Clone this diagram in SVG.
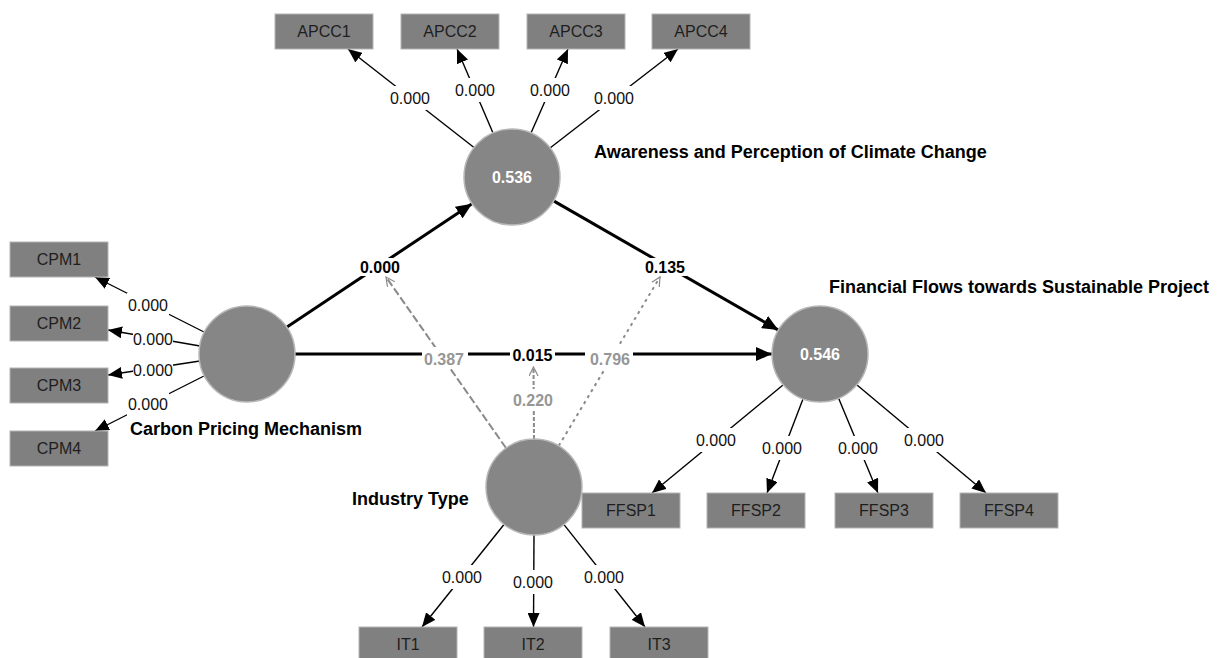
<svg xmlns="http://www.w3.org/2000/svg" width="1221" height="658" viewBox="0 0 1221 658">
<defs>
<style>
text{font-family:"Liberation Sans",Arial,sans-serif;font-size:16px}
.box{fill:#808080;stroke:#b4b4b4;stroke-width:1}
.bt{fill:#1e1e1e;text-anchor:middle}
.lv{fill:#868686;stroke:#b8b8b8;stroke-width:1.5}
.lvt{fill:#fff;font-weight:bold;text-anchor:middle}
.title{fill:#000;font-weight:bold;font-size:18px}
.ld{stroke:#000;stroke-width:1.4;fill:none;marker-end:url(#aS)}
.st{stroke:#000;stroke-width:3;fill:none;marker-end:url(#aB)}
.md{stroke:#8a8a8a;stroke-width:2;fill:none;marker-end:url(#aO)}
.bg{fill:#fff}
.lt{fill:#111;text-anchor:middle}
.sl{fill:#000;font-weight:bold;text-anchor:middle}
.ml{fill:#969696;font-weight:bold;text-anchor:middle}
</style>
<marker id="aS" markerUnits="userSpaceOnUse" markerWidth="15" markerHeight="12" refX="14" refY="6" orient="auto"><path d="M0,0 L14,6 L0,12 z" fill="#000"/></marker>
<marker id="aB" markerUnits="userSpaceOnUse" markerWidth="17" markerHeight="14" refX="16" refY="7" orient="auto"><path d="M0,0 L16,7 L0,14 z" fill="#000"/></marker>
<marker id="aO" markerUnits="userSpaceOnUse" markerWidth="10" markerHeight="10" refX="9" refY="5" orient="auto"><path d="M0,0.5 L9,5 L0,9.5" fill="none" stroke="#8a8a8a" stroke-width="1.2"/></marker>
</defs>
<rect width="1221" height="658" fill="#fff"/>

<g id="connectors">
<!-- APCC loadings -->
<line class="ld" x1="474" y1="147.5" x2="348" y2="49"/>
<line class="ld" x1="493" y1="133" x2="457" y2="49"/>
<line class="ld" x1="531" y1="133" x2="568" y2="49"/>
<line class="ld" x1="550" y1="148" x2="678" y2="49"/>
<!-- CPM loadings -->
<line class="ld" x1="204" y1="332" x2="95" y2="277"/>
<line class="ld" x1="200" y1="346" x2="108" y2="330"/>
<line class="ld" x1="200" y1="361" x2="108" y2="375"/>
<line class="ld" x1="204" y1="376" x2="95" y2="431"/>
<!-- FFSP loadings -->
<line class="ld" x1="783" y1="385" x2="652" y2="493"/>
<line class="ld" x1="803" y1="399" x2="767" y2="493"/>
<line class="ld" x1="838.5" y1="398" x2="878" y2="493"/>
<line class="ld" x1="857" y1="385" x2="986" y2="493"/>
<!-- IT loadings -->
<line class="ld" x1="504" y1="524.5" x2="422" y2="627"/>
<line class="ld" x1="534" y1="535" x2="533.5" y2="627"/>
<line class="ld" x1="564" y1="524.6" x2="645" y2="627"/>
<!-- structural -->
<line class="st" x1="287" y1="327" x2="472" y2="203.7"/>
<line class="st" x1="553.6" y1="200.9" x2="778.4" y2="330.1"/>
<line class="st" x1="295" y1="354" x2="772" y2="354"/>
<!-- moderation -->
<line class="md" x1="506" y1="448" x2="386" y2="277" stroke-dasharray="8,3"/>
<line class="md" x1="534" y1="439" x2="533.5" y2="367" stroke-dasharray="4,2"/>
<line class="md" x1="558.7" y1="445.9" x2="660" y2="277" stroke-dasharray="3,4" stroke="#9a9a9a"/>

<!-- label backgrounds -->
<g class="bg">
<rect x="389" y="86" width="42" height="24"/>
<rect x="454" y="78" width="42" height="24"/>
<rect x="529" y="78" width="42" height="24"/>
<rect x="593" y="86" width="42" height="24"/>
<rect x="127" y="293" width="42" height="24"/>
<rect x="133" y="327" width="40" height="24"/>
<rect x="133" y="358" width="40" height="24"/>
<rect x="127" y="392" width="42" height="24"/>
<rect x="695" y="428" width="42" height="24"/>
<rect x="761" y="436" width="42" height="24"/>
<rect x="837" y="436" width="42" height="24"/>
<rect x="903" y="428" width="42" height="24"/>
<rect x="441" y="565" width="42" height="24"/>
<rect x="512" y="570" width="42" height="24"/>
<rect x="583" y="565" width="42" height="24"/>
<rect x="358" y="258" width="44" height="18"/>
<rect x="643" y="258" width="44" height="18"/>
<rect x="510" y="345" width="45" height="20"/>
<rect x="422" y="347" width="46" height="22"/>
<rect x="585" y="347" width="48" height="22"/>
<rect x="511" y="389" width="44" height="21"/>
</g>

<!-- labels -->
<text class="lt" x="410" y="104">0.000</text>
<text class="lt" x="475" y="96">0.000</text>
<text class="lt" x="550" y="96">0.000</text>
<text class="lt" x="614" y="104">0.000</text>
<text class="lt" x="148" y="311">0.000</text>
<text class="lt" x="153" y="345">0.000</text>
<text class="lt" x="153" y="376">0.000</text>
<text class="lt" x="148" y="410">0.000</text>
<text class="lt" x="716" y="446">0.000</text>
<text class="lt" x="782" y="454">0.000</text>
<text class="lt" x="858" y="454">0.000</text>
<text class="lt" x="924" y="446">0.000</text>
<text class="lt" x="462" y="583">0.000</text>
<text class="lt" x="533" y="588">0.000</text>
<text class="lt" x="604" y="583">0.000</text>
<text class="sl" x="380" y="273">0.000</text>
<text class="sl" x="665" y="273">0.135</text>
<text class="sl" x="532.5" y="360.5">0.015</text>
<text class="ml" x="444" y="365">0.387</text>
<text class="ml" x="610" y="365">0.796</text>
<text class="ml" x="533" y="405.5">0.220</text>
</g>

<g id="APCC">
<circle class="lv" cx="512" cy="177" r="48"/>
<text class="lvt" x="512" y="183">0.536</text>
<text class="title" x="594" y="158">Awareness and Perception of Climate Change</text>
</g>
<g id="CPM">
<circle class="lv" cx="247" cy="354" r="48"/>
<text class="title" x="130" y="435">Carbon Pricing Mechanism</text>
</g>
<g id="FFSP">
<circle class="lv" cx="820" cy="354" r="48"/>
<text class="lvt" x="820" y="360">0.546</text>
<text class="title" x="829" y="293">Financial Flows towards Sustainable Project</text>
</g>
<g id="IT">
<circle class="lv" cx="534" cy="487" r="48"/>
<text class="title" x="352" y="505">Industry Type</text>
</g>

<g id="APCC1"><rect class="box" x="275" y="14" width="98" height="35"/><text class="bt" x="324" y="37">APCC1</text></g>
<g id="APCC2"><rect class="box" x="401" y="14" width="98" height="35"/><text class="bt" x="450" y="37">APCC2</text></g>
<g id="APCC3"><rect class="box" x="527" y="14" width="98" height="35"/><text class="bt" x="576" y="37">APCC3</text></g>
<g id="APCC4"><rect class="box" x="652" y="14" width="98" height="35"/><text class="bt" x="701" y="37">APCC4</text></g>

<g id="CPM1"><rect class="box" x="10" y="242" width="98" height="35"/><text class="bt" x="59" y="265">CPM1</text></g>
<g id="CPM2"><rect class="box" x="10" y="306" width="98" height="35"/><text class="bt" x="59" y="329">CPM2</text></g>
<g id="CPM3"><rect class="box" x="10" y="368" width="98" height="35"/><text class="bt" x="59" y="391">CPM3</text></g>
<g id="CPM4"><rect class="box" x="10" y="431" width="98" height="35"/><text class="bt" x="59" y="454">CPM4</text></g>

<g id="FFSP1"><rect class="box" x="582" y="493" width="98" height="35"/><text class="bt" x="631" y="516">FFSP1</text></g>
<g id="FFSP2"><rect class="box" x="707" y="493" width="98" height="35"/><text class="bt" x="756" y="516">FFSP2</text></g>
<g id="FFSP3"><rect class="box" x="835" y="493" width="98" height="35"/><text class="bt" x="884" y="516">FFSP3</text></g>
<g id="FFSP4"><rect class="box" x="960" y="493" width="98" height="35"/><text class="bt" x="1009" y="516">FFSP4</text></g>

<g id="IT1"><rect class="box" x="359" y="627" width="98" height="35"/><text class="bt" x="408" y="650">IT1</text></g>
<g id="IT2"><rect class="box" x="484" y="627" width="98" height="35"/><text class="bt" x="533" y="650">IT2</text></g>
<g id="IT3"><rect class="box" x="610" y="627" width="98" height="35"/><text class="bt" x="659" y="650">IT3</text></g>
</svg>
